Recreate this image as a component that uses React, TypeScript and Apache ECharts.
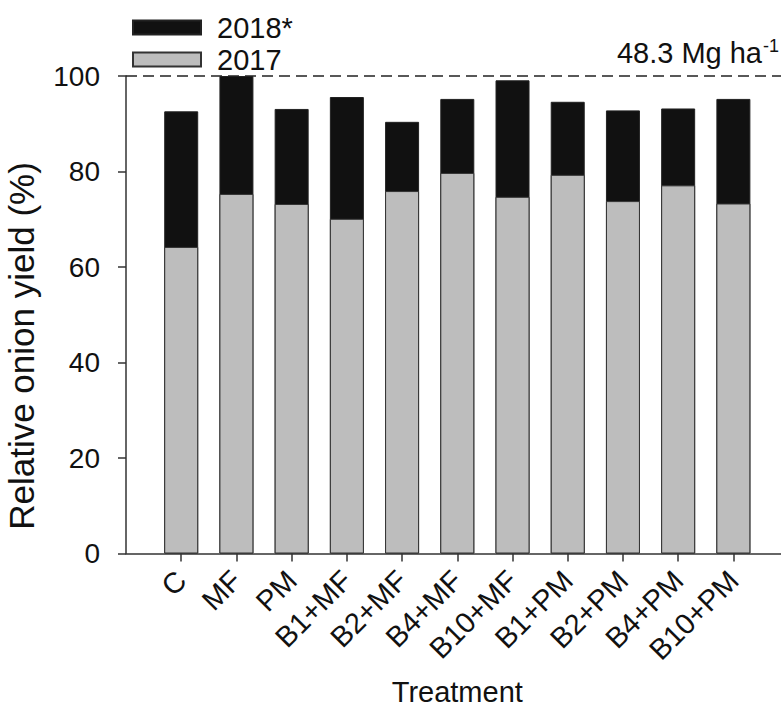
import React, { useEffect, useRef } from "react";
import * as echarts from "echarts";

const categories = ["C", "MF", "PM", "B1+MF", "B2+MF", "B4+MF", "B10+MF", "B1+PM", "B2+PM", "B4+PM", "B10+PM"];
const values2018 = [92.6, 100, 93.1, 95.6, 90.4, 95.2, 99.1, 94.6, 92.8, 93.2, 95.2];
const values2017 = [64.2, 75.3, 73.2, 70.1, 75.9, 79.7, 74.7, 79.3, 73.8, 77.1, 73.3];
const yTicks = [0, 20, 40, 60, 80, 100];
const referenceLevel = 100;
const referenceLabel = "48.3 Mg ha";
const referenceSup = "-1";

const FONT = "Liberation Sans";

export default function App() {
  const ref = useRef<HTMLDivElement>(null);

  useEffect(() => {
    if (!ref.current) return;
    const chart = echarts.init(ref.current, null, { renderer: "svg" });
    const cats = ["", ...categories, ""];
    const pad = (arr: number[]) => ["-", ...arr, "-"];
    const option: any = {
      animation: false,
      backgroundColor: "#ffffff",
      textStyle: { fontFamily: FONT },
      legend: {
        data: ["2018*", "2017"],
        orient: "vertical",
        left: 127,
        top: 8,
        itemWidth: 68,
        itemHeight: 14,
        itemGap: 3,
        icon: "rect",
        selectedMode: false,
        formatter: "{t|{name}}",
        textStyle: {
          fontSize: 29,
          color: "#111",
          fontFamily: FONT,
          rich: { t: { fontSize: 29, fontFamily: FONT, color: "#111", padding: [0, 0, 0, 11] } },
        },
      },
      grid: {
        left: 126,
        top: 76,
        width: 662.6,
        height: 477.5,
        containLabel: false,
        outerBoundsMode: "none",
      },
      xAxis: {
        type: "category",
        data: cats,
        boundaryGap: false,
        name: "Treatment",
        nameLocation: "middle",
        nameGap: 124,
        nameTextStyle: { fontSize: 29, color: "#111", fontFamily: FONT },
        axisLine: { show: true, lineStyle: { color: "#333", width: 1.5 } },
        axisTick: {
          show: true,
          length: 8,
          lineStyle: { color: "#333", width: 1.5 },
          interval: (idx: number, val: string) => val !== "",
        },
        axisLabel: {
          interval: 0,
          rotate: 45,
          margin: 22,
          fontSize: 29,
          color: "#111",
          fontFamily: FONT,
        },
        splitLine: { show: false },
      },
      yAxis: {
        type: "value",
        min: yTicks[0],
        max: yTicks[yTicks.length - 1],
        interval: 20,
        axisLine: { show: true, lineStyle: { color: "#333", width: 1.5 } },
        axisTick: { show: true, length: 8, lineStyle: { color: "#333", width: 1.5 } },
        axisLabel: { margin: 26, fontSize: 28, color: "#111", fontFamily: FONT },
        splitLine: { show: false },
      },
      series: [
        {
          name: "2018*",
          type: "bar",
          data: pad(values2018),
          barWidth: 34,
          barGap: "-100%",
          itemStyle: { color: "#111111", borderColor: "#222", borderWidth: 1 },
          markLine: {
            silent: true,
            symbol: ["none", "none"],
            label: { show: false },
            lineStyle: { type: [11, 6], color: "#222", width: 1.5 },
            data: [{ yAxis: referenceLevel }],
          },
        },
        {
          name: "2017",
          type: "bar",
          data: pad(values2017),
          barWidth: 34,
          barGap: "-100%",
          itemStyle: { color: "#bdbdbd", borderColor: "#333", borderWidth: 1 },
        },
      ],
      graphic: [
        {
          type: "text",
          x: 21,
          y: 346,
          rotation: Math.PI / 2,
          style: {
            text: "Relative onion yield (%)",
            fontSize: 35,
            fontFamily: FONT,
            fill: "#111",
            align: "center",
            verticalAlign: "middle",
          },
        },
        {
          type: "text",
          x: 762,
          y: 53,
          style: {
            text: referenceLabel,
            fontSize: 29,
            fontFamily: FONT,
            fill: "#111",
            align: "right",
            verticalAlign: "middle",
          },
        },
        {
          type: "text",
          x: 763,
          y: 46,
          style: {
            text: referenceSup,
            fontSize: 18,
            fontFamily: FONT,
            fill: "#111",
            align: "left",
            verticalAlign: "middle",
          },
        },
      ],
    };
    chart.setOption(option);
    return () => chart.dispose();
  }, []);

  return (
    <div
      ref={ref}
      style={{ position: "absolute", left: 0, top: 0, width: 781, height: 711, background: "#fff" }}
    />
  );
}
